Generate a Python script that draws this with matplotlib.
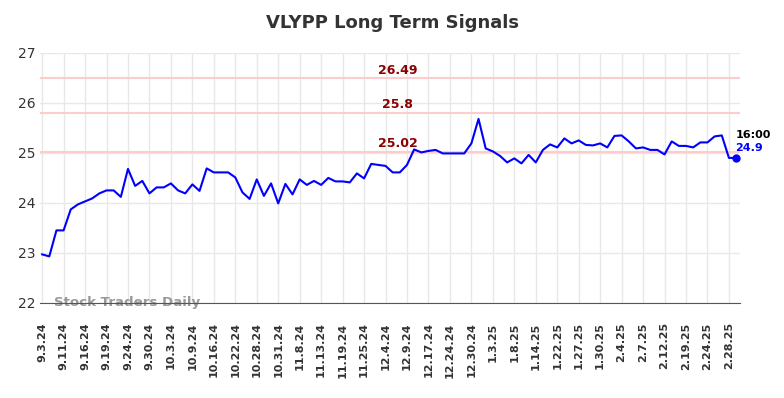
import matplotlib
matplotlib.use("Agg")
import matplotlib.pyplot as plt

# signal values, one per point
values = [22.97, 22.93, 23.45, 23.45, 23.87, 23.97, 24.03, 24.09, 24.19, 24.25,
          24.25, 24.12, 24.68, 24.34, 24.44, 24.19, 24.31, 24.31, 24.39, 24.25,
          24.19, 24.37, 24.24, 24.69, 24.61, 24.61, 24.61, 24.51, 24.21, 24.08,
          24.47, 24.14, 24.39, 23.99, 24.38, 24.17, 24.47, 24.36, 24.44, 24.36,
          24.50, 24.43, 24.43, 24.41, 24.59, 24.49, 24.78, 24.76, 24.74, 24.61,
          24.61, 24.76, 25.07, 25.01, 25.04, 25.06, 24.99, 24.99, 24.99, 24.99,
          25.19, 25.68, 25.09, 25.03, 24.94, 24.81, 24.89, 24.79, 24.96, 24.81,
          25.06, 25.17, 25.11, 25.29, 25.19, 25.25, 25.16, 25.15, 25.19, 25.11,
          25.34, 25.35, 25.23, 25.09, 25.11, 25.06, 25.06, 24.97, 25.23, 25.14,
          25.14, 25.11, 25.21, 25.21, 25.33, 25.35, 24.90, 24.90]

tick_labels = ['9.3.24', '9.11.24', '9.16.24', '9.19.24', '9.24.24', '9.30.24',
               '10.3.24', '10.9.24', '10.16.24', '10.22.24', '10.28.24', '10.31.24',
               '11.8.24', '11.13.24', '11.19.24', '11.25.24', '12.4.24', '12.9.24',
               '12.17.24', '12.24.24', '12.30.24', '1.3.25', '1.8.25', '1.14.25',
               '1.22.25', '1.27.25', '1.30.25', '2.4.25', '2.7.25', '2.12.25',
               '2.19.25', '2.24.25', '2.28.25']

levels = [26.49, 25.8, 25.02]
last_time = '16:00'

x = list(range(len(values)))
tick_pos = list(range(0, 3 * len(tick_labels), 3))

fig = plt.figure(figsize=(7.84, 3.98), dpi=100)
ax = fig.add_axes([0.051, 0.239, 0.893, 0.628])

for lv in levels:
    ax.axhline(lv, color='#ffcccc', lw=1.5, zorder=1)
    ax.text(49.7, lv + 0.03, str(lv), color='#8b0000', fontsize=9,
            fontweight='bold', ha='center', va='bottom')

ax.plot(x, values, color='blue', lw=1.5, zorder=3)
ax.plot(x[-1], values[-1], 'o', color='blue', ms=5, zorder=4, clip_on=False)

ax.text(x[-1] - 0.1, values[-1] + 0.46, last_time, fontsize=8,
        fontweight='bold', color='black', ha='left', va='center')
ax.text(x[-1] - 0.1, values[-1] + 0.2, '%g' % values[-1], fontsize=8,
        fontweight='bold', color='blue', ha='left', va='center')

ax.text(1.6, 22.0, 'Stock Traders Daily', fontsize=9.6, fontweight='bold',
        color='#999999', ha='left', va='center', zorder=2)

ax.set_xlim(-0.3, 97.56)
ax.set_ylim(22, 27)
ax.set_yticks([22, 23, 24, 25, 26, 27])
ax.set_xticks(tick_pos)
ax.set_xticklabels(tick_labels, rotation=90, fontsize=8, fontweight='bold',
                   color='#333333')
ax.tick_params(axis='y', labelsize=10, colors='#333333', length=0, pad=3)
ax.tick_params(axis='x', length=0, pad=14)
ax.grid(color='#e8e8e8', lw=1)
ax.set_axisbelow(True)
for s in ['top', 'right', 'left']:
    ax.spines[s].set_visible(False)
ax.spines['bottom'].set_color('#555555')

fig.suptitle('VLYPP Long Term Signals', x=0.5, y=0.965, fontsize=13,
             fontweight='bold', color='#333333')

fig.savefig('out.png', dpi=100)
